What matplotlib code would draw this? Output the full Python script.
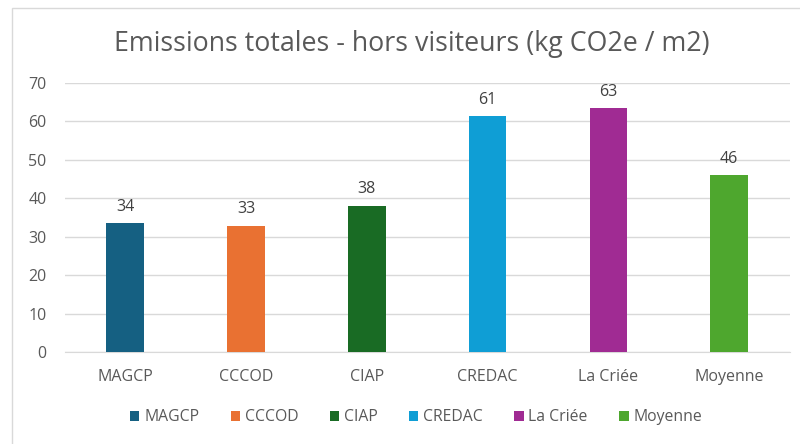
import matplotlib.pyplot as plt
from matplotlib.patches import Rectangle

plt.rcParams['font.family'] = ['Open Sans', 'DejaVu Sans']

# Data
categories = ['MAGCP', 'CCCOD', 'CIAP', 'CREDAC', 'La Criée', 'Moyenne']
values = [33.5, 32.9, 38.1, 61.4, 63.4, 46.0]
colors = ['#156082', '#E97132', '#196B24', '#0F9ED5', '#A02B93', '#4EA72E']
yticks = [0, 10, 20, 30, 40, 50, 60, 70]

fig = plt.figure(figsize=(8, 4.44), dpi=100)
ax = fig.add_axes([0.081, 0.2065, 0.906, 0.6072])

# chart area border (Excel style)
fig.patches.append(Rectangle((12 / 800, -0.1), 1.1, (444 - 8) / 444 + 0.1,
                             transform=fig.transFigure, fill=False,
                             edgecolor='#D9D9D9', linewidth=1.0))

x = range(len(categories))
bars = ax.bar(x, values, width=0.31, color=colors, label=categories, zorder=3)

for xi, v in zip(x, values):
    ax.annotate(f'{v:.0f}', (xi, v), xytext=(0, 6), textcoords='offset points',
                ha='center', va='bottom', fontsize=11.5, color='#404040')

ax.set_xlim(-0.5, len(categories) - 0.5)
ax.set_ylim(0, 70)
ax.set_yticks(yticks)
ax.set_xticks(list(x))
ax.set_xticklabels(categories)
ax.tick_params(axis='both', length=0, colors='#595959')
ax.tick_params(axis='y', pad=13, labelsize=11.5)
ax.tick_params(axis='x', pad=12, labelsize=11.5)
ax.grid(axis='y', color='#D9D9D9', linewidth=1.0, zorder=0)
for side in ['top', 'right', 'left']:
    ax.spines[side].set_visible(False)
ax.spines['bottom'].set_color('#D9D9D9')

fig.text(0.515, 0.9, 'Emissions totales - hors visiteurs (kg CO2e / m2)',
         ha='center', va='center', fontsize=19.3, color='#595959')

fig.legend(handles=bars.patches, labels=categories, loc='center',
           bbox_to_anchor=(0.52, 0.06), ncol=6, frameon=False,
           fontsize=11.3, handlelength=0.6, handleheight=0.6,
           handletextpad=0.3, columnspacing=2.0, labelcolor='#595959')

fig.savefig('out.png', dpi=100)
